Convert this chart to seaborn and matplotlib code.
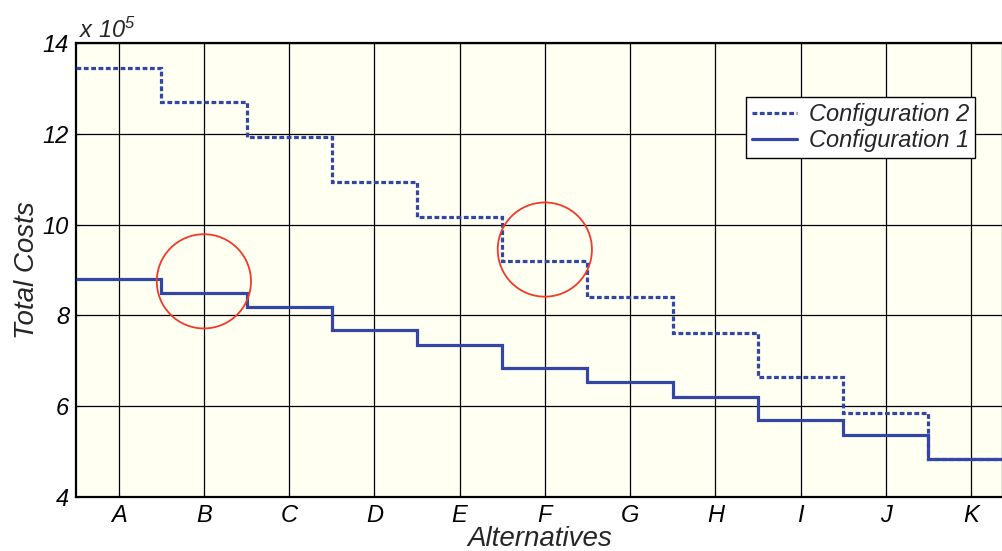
import matplotlib
matplotlib.use('Agg')
import matplotlib.pyplot as plt
from matplotlib.lines import Line2D
import numpy as np
import pandas as pd
import seaborn as sns

# data (units of 1e5)
alternatives = ['A', 'B', 'C', 'D', 'E', 'F', 'G', 'H', 'I', 'J', 'K']
config1 = [8.80, 8.49, 8.18, 7.68, 7.35, 6.84, 6.53, 6.20, 5.70, 5.37, 4.84]
config2 = [13.45, 12.70, 11.93, 10.94, 10.17, 9.20, 8.41, 7.61, 6.64, 5.85, 4.84]
circle_at = ['B', 'F']
circle_y = [8.75, 9.45]

sns.set_style('ticks')
plt.rcParams['font.family'] = ['Liberation Sans', 'DejaVu Sans']
plt.rcParams['font.style'] = 'italic'
plt.rcParams['mathtext.fontset'] = 'custom'
plt.rcParams['mathtext.rm'] = 'Liberation Sans:italic'
plt.rcParams['mathtext.it'] = 'Liberation Sans:italic'

blue = '#3446a4'
dots = (0, (1.5, 0.8))

fig = plt.figure(figsize=(10.03, 5.51), dpi=100)
ax = fig.add_axes([0.0758, 0.098, 0.9242, 0.824])
ax.set_facecolor('#fffff2')

pos = np.arange(len(alternatives))
edges = np.append(pos - 0.5, pos[-1] + 0.5)
ax.stairs(config2, edges, baseline=None, color=blue, lw=2.3,
          linestyle=dots, zorder=3)
ax.stairs(config1, edges, baseline=None, color=blue, lw=2.3, zorder=4)

circ = pd.DataFrame({'x': [alternatives.index(c) for c in circle_at], 'y': circle_y})
sns.scatterplot(data=circ, x='x', y='y', ax=ax, s=4600, marker='o',
                facecolor='none', edgecolor='#f03a2a', linewidth=1.3, zorder=5,
                legend=False)

ax.set_xlim(-0.5, 10.375)
ax.set_ylim(4, 14)
ax.set_xticks(pos)
ax.set_xticklabels(alternatives)
ax.set_yticks(np.arange(4, 15, 2))
ax.grid(True, color='black', lw=0.9)
ax.tick_params(direction='in', length=3, labelsize=17, pad=5, colors='black')
for s in ax.spines.values():
    s.set_color('black')
    s.set_linewidth(1.6)

ax.set_xlabel('Alternatives', fontsize=20, labelpad=-1)
ax.set_ylabel('Total Costs', fontsize=20, labelpad=2)
ax.text(0.003, 1.0, r'x 10$^{5}$', transform=ax.transAxes, ha='left', va='bottom',
        fontsize=17)

h2 = Line2D([], [], color=blue, lw=2.3, linestyle=dots)
h1 = Line2D([], [], color=blue, lw=2.3)
leg = ax.legend([h2, h1], ['Configuration 2', 'Configuration 1'],
                loc='upper right', bbox_to_anchor=(0.970, 0.881), fontsize=17,
                frameon=True, fancybox=False, handlelength=1.9, borderpad=0.25,
                labelspacing=0.15, handletextpad=0.5, borderaxespad=0)
leg.get_frame().set_edgecolor('black')
leg.get_frame().set_linewidth(1.0)
leg.get_frame().set_facecolor('white')
leg.get_frame().set_alpha(1)

fig.savefig('out.png', dpi=100)
